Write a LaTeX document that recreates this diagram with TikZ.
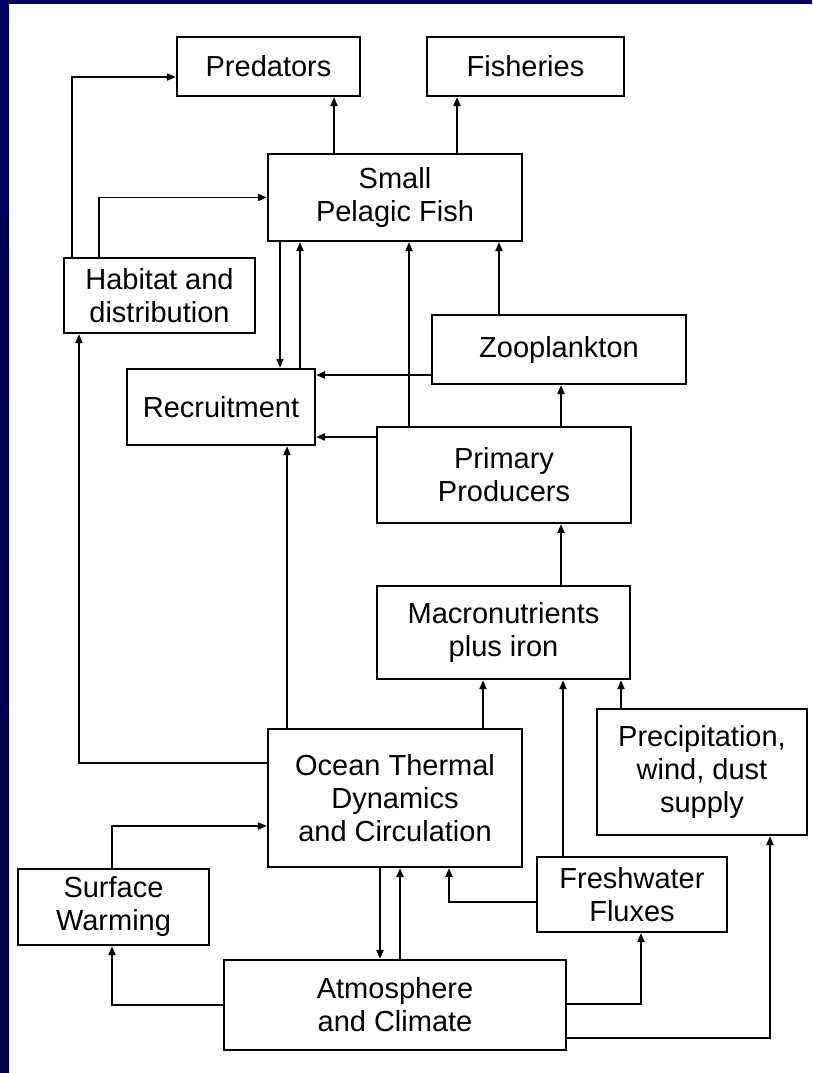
\documentclass[tikz,border=0pt]{standalone}
\usepackage{fontspec}
\setmainfont{Liberation Sans}
\usepackage{tikz}
\usetikzlibrary{arrows.meta,positioning}

\definecolor{navyTop}{HTML}{000062}
\definecolor{navyMid}{HTML}{000098}
\definecolor{navyLow}{HTML}{000046}

\begin{document}
\begin{tikzpicture}[x=1pt,y=-1pt,
    box/.style={draw,line width=2.1pt,inner sep=0pt,align=center,
      font=\fontsize{29}{33}\selectfont},
    arr/.style={line width=1.9pt,-{Triangle[length=9pt,width=7pt]}}]
  \useasboundingbox (0,0) rectangle (812,1073);
  \fill[white] (0,0) rectangle (812,1073);
  \shade[top color=navyTop,middle color=navyMid,bottom color=navyLow] (0,0) rectangle (9,1073);
  \fill[navyTop] (0,0) rectangle (812,4);

  % boxes
  \node[box,minimum width=183,minimum height=59] (pred) at (268.5,66.5) {Predators};
  \node[box,minimum width=197,minimum height=59] (fish) at (525.5,66.5) {Fisheries};
  \node[box,minimum width=254,minimum height=87] (spf) at (395,197.5) {Small\\Pelagic Fish};
  \node[box,minimum width=191,minimum height=75] (hab) at (159.5,295.5) {Habitat and\\distribution};
  \node[box,minimum width=254,minimum height=69] (zoo) at (559,349.5) {Zooplankton};
  \node[box,minimum width=188,minimum height=76] (rec) at (221,407) {Recruitment};
  \node[box,minimum width=254,minimum height=96] (prim) at (504,475) {Primary\\Producers};
  \node[box,minimum width=253,minimum height=93] (macro) at (503.5,632.5) {Macronutrients\\plus iron};
  \node[box,minimum width=254,minimum height=138] (ocean) at (395,798) {Ocean Thermal\\Dynamics\\and Circulation};
  \node[box,minimum width=210,minimum height=126] (precip) at (702,772) {Precipitation,\\wind, dust\\supply};
  \node[box,minimum width=191,minimum height=76] (surf) at (113.5,907) {Surface\\Warming};
  \node[box,minimum width=190,minimum height=75] (fresh) at (632,894.5) {Freshwater\\Fluxes};
  \node[box,minimum width=342,minimum height=90] (atm) at (395,1005) {Atmosphere\\and Climate};

  % upper links
  \draw[arr] (hab.north -| 72,0) |- (pred.west |- 0,77);
  \draw[arr] (hab.north -| 99,0) |- (spf.west);
  \draw[arr] (spf.north -| 334,0) -- (pred.south -| 334,0);
  \draw[arr] (spf.north -| 457,0) -- (fish.south -| 457,0);
  \draw[arr] (spf.south -| 280,0) -- (rec.north -| 280,0);
  \draw[arr] (rec.north -| 300,0) -- (spf.south -| 300,0);
  \draw[arr] (prim.north -| 409,0) -- (spf.south -| 409,0);
  \draw[arr] (zoo.north -| 499,0) -- (spf.south -| 499,0);
  \draw[arr] (zoo.west |- 0,375) -- (rec.east |- 0,375);
  \draw[arr] (prim.west |- 0,437) -- (rec.east |- 0,437);
  \draw[arr] (prim.north -| 561,0) -- (zoo.south -| 561,0);
  \draw[arr] (macro.north -| 561,0) -- (prim.south -| 561,0);

  % lower links
  \draw[arr] (ocean.north -| 287,0) -- (rec.south -| 287,0);
  \draw[arr] (ocean.west |- 0,763) -| (hab.south -| 79,0);
  \draw[arr] (ocean.north -| 483,0) -- (macro.south -| 483,0);
  \draw[arr] (fresh.north -| 563,0) -- (macro.south -| 563,0);
  \draw[arr] (precip.north -| 621,0) -- (macro.south -| 621,0);
  \draw[arr] (fresh.west |- 0,902) -| (ocean.south -| 449,0);
  \draw[arr] (surf.north -| 112,0) |- (ocean.west |- 0,826);
  \draw[arr] (ocean.south -| 380,0) -- (atm.north -| 380,0);
  \draw[arr] (atm.north -| 400,0) -- (ocean.south -| 400,0);
  \draw[arr] (atm.west) -| (surf.south -| 112,0);
  \draw[arr] (atm.east |- 0,1004) -| (fresh.south -| 641,0);
  \draw[arr] (atm.east |- 0,1038) -| (precip.south -| 770,0);
\end{tikzpicture}
\end{document}
